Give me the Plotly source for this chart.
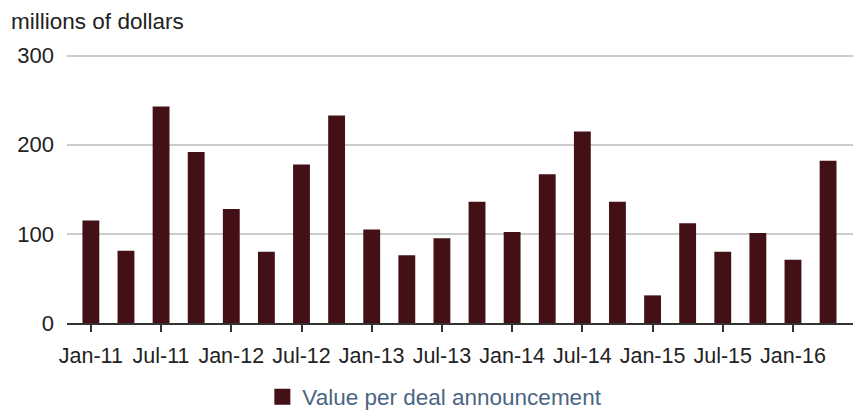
import plotly.graph_objects as go

quarters = [
    "Jan-11", "Apr-11", "Jul-11", "Oct-11",
    "Jan-12", "Apr-12", "Jul-12", "Oct-12",
    "Jan-13", "Apr-13", "Jul-13", "Oct-13",
    "Jan-14", "Apr-14", "Jul-14", "Oct-14",
    "Jan-15", "Apr-15", "Jul-15", "Oct-15",
    "Jan-16", "Apr-16",
]
value_per_deal = [
    115, 81, 243, 192,
    128, 80, 178, 233,
    105, 76, 95, 136,
    102, 167, 215, 136,
    31, 112, 80, 101,
    71, 182,
]
tick_labels = quarters[::2]

bar_color = "#431016"
text_color = "#222222"

fig = go.Figure()
fig.add_trace(
    go.Bar(
        x=quarters,
        y=value_per_deal,
        name="Value per deal announcement",
        marker={"color": bar_color, "line": {"width": 0}},
        showlegend=False,
    )
)
# legend entry with a larger square swatch
fig.add_trace(
    go.Scatter(
        x=[None],
        y=[None],
        mode="markers",
        name="Value per deal announcement",
        marker={"color": bar_color, "symbol": "square", "size": 17},
        showlegend=True,
    )
)

fig.update_layout(
    width=854,
    height=411,
    margin={"l": 67, "r": 1, "t": 53, "b": 88, "autoexpand": False},
    paper_bgcolor="white",
    plot_bgcolor="white",
    bargap=0.52,
    font={"family": "Liberation Sans, Arial, sans-serif", "size": 21, "color": text_color},
    title={
        "text": "millions of dollars",
        "x": 0.013,
        "xanchor": "left",
        "xref": "container",
        "y": 0.949,
        "yanchor": "middle",
        "yref": "container",
        "font": {"size": 22.5, "color": text_color},
    },
    legend={
        "orientation": "h",
        "x": 0.468,
        "xanchor": "center",
        "yref": "container",
        "y": 0.034,
        "yanchor": "middle",
        "font": {"size": 22.5, "color": "#4a6583"},
    },
    showlegend=True,
)
fig.update_xaxes(
    type="category",
    range=[-0.68, 21.71],
    tickvals=tick_labels,
    ticktext=tick_labels,
    ticks="outside",
    ticklen=7,
    tickwidth=1.5,
    tickcolor="#333333",
    showline=True,
    linecolor="#333333",
    linewidth=1.5,
    showgrid=False,
    automargin=False,
    ticklabelstandoff=5,
    tickfont={"size": 21.5, "color": text_color},
)
fig.update_yaxes(
    range=[0, 303],
    tickvals=[0, 100, 200, 300],
    showgrid=True,
    gridcolor="#cccccc",
    gridwidth=1.5,
    zeroline=False,
    ticks="",
    automargin=False,
    ticklabelstandoff=12,
    tickfont={"size": 22, "color": text_color},
)

fig.write_html(
    "out.html",
    config={"displayModeBar": False},
    post_script="document.body.style.margin = '0';",
)
